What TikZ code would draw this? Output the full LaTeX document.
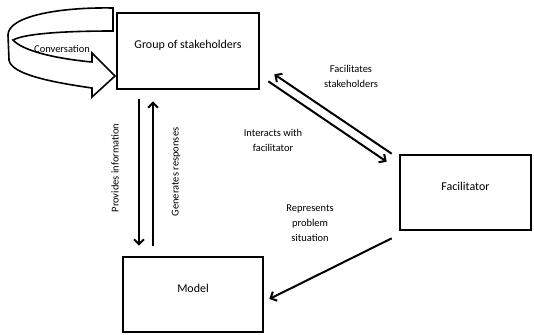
\documentclass[tikz,border=0pt]{standalone}
\usepackage{fontspec}
\setmainfont{Carlito}
\usetikzlibrary{arrows.meta}
\tikzset{
  box/.style={draw, line width=2.6bp, rectangle, inner sep=0pt},
  boxlbl/.style={font=\fontsize{12}{14}\selectfont, yshift=6bp},
  arr/.style={line width=2bp, -{Straight Barb[length=5bp,width=10bp,line width=2bp]}},
  elbl/.style={font=\fontsize{10.5}{15}\selectfont, align=center, inner sep=0pt},
  ribbon/.style={draw, line width=1.6bp, fill=white, line join=miter}
}
\begin{document}
\begin{tikzpicture}[x=1bp,y=-1bp]
\useasboundingbox (0,0) rectangle (534,334);
% curved conversation arrow
\draw[ribbon] (113,8) .. controls (60,7) and (8,16) .. (8,35)
  -- (9,60) .. controls (11,74) and (50,82) .. (92,88)
  -- (92,97) -- (115,76) -- (92,53) -- (92,62)
  .. controls (60,59) and (24,52) .. (13,40)
  .. controls (26,33) and (70,31) .. (113,31) -- cycle;
\node[elbl] (conv) at (62,49) {Conversation};
% boxes
\node[box, minimum width=142bp, minimum height=76bp,
  label={[boxlbl]center:Group of stakeholders}] (g) at (188,51) {};
\node[box, minimum width=131bp, minimum height=75bp,
  label={[boxlbl]center:Facilitator}] (f) at (465.5,192.5) {};
\node[box, minimum width=140bp, minimum height=75bp,
  label={[boxlbl]center:Model}] (m) at (193,294.5) {};
% arrows
\draw[arr] ([shift={(-49,9)}]g.south) -- ([shift={(-54,-10)}]m.north);
\draw[arr] ([shift={(-40,-10)}]m.north) -- ([shift={(-35,11)}]g.south);
\draw[arr] ([shift={(-7,0)}]f.north west) -- ([shift={(14,-16)}]g.south east);
\draw[arr] ([shift={(8,-9)}]g.south east) -- ([shift={(-12,8)}]f.north west);
\draw[arr] ([shift={(-7,7)}]f.south west) -- ([shift={(5,4.5)}]m.east);
% labels
\node[elbl, rotate=90] (l1) at (115,168) {Provides information};
\node[elbl, rotate=90] (l2) at (176,172) {Generates responses};
\node[elbl] (l3) at (351,76) {Facilitates\\stakeholders};
\node[elbl] (l4) at (273,140) {Interacts with\\facilitator};
\node[elbl] (l5) at (310,223) {Represents\\problem\\situation};
\end{tikzpicture}
\end{document}
